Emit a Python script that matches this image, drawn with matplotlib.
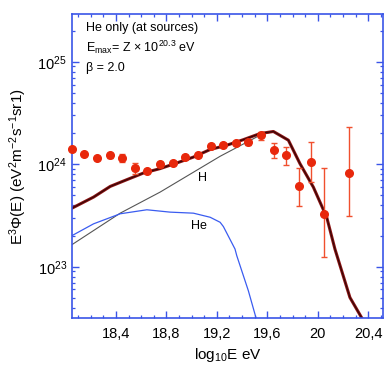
import matplotlib.pyplot as plt
from matplotlib.ticker import MultipleLocator, LogLocator, NullFormatter, FixedLocator
import numpy as np

plt.rcParams['font.family'] = ['Liberation Sans', 'DejaVu Sans']
plt.rcParams['mathtext.fontset'] = 'custom'
plt.rcParams['mathtext.rm'] = 'Liberation Sans'
plt.rcParams['mathtext.it'] = 'Liberation Sans:italic'

# measured spectrum (units of 1e24)
logE_pts = [18.05, 18.15, 18.25, 18.35, 18.45, 18.55, 18.65, 18.75, 18.85, 18.95, 19.05,
            19.15, 19.25, 19.35, 19.45, 19.55, 19.65, 19.75, 19.85, 19.95, 20.05, 20.25]
flux_pts = [1.40, 1.25, 1.14, 1.22, 1.16, 0.91, 0.86, 1.00, 1.02, 1.18, 1.23,
            1.50, 1.55, 1.62, 1.64, 1.91, 1.37, 1.24, 0.62, 1.05, 0.33, 0.83]
err_lo = [0.05, 0.05, 0.05, 0.07, 0.10, 0.11, 0.04, 0.05, 0.04, 0.05, 0.05,
          0.06, 0.06, 0.08, 0.10, 0.19, 0.21, 0.26, 0.23, 0.38, 0.205, 0.52]
err_hi = [0.05, 0.05, 0.05, 0.07, 0.10, 0.12, 0.04, 0.05, 0.04, 0.05, 0.05,
          0.06, 0.06, 0.08, 0.10, 0.16, 0.25, 0.22, 0.29, 0.61, 0.60, 1.49]

# model curves (log10 of E^3 flux)
logE_tot = [18.052, 18.223, 18.355, 18.487, 18.619, 18.751, 18.883, 19.014, 19.147, 19.279,
            19.410, 19.543, 19.648, 19.767, 19.859, 19.965, 20.071, 20.136, 20.255, 20.360, 20.45]
log_tot = [23.572, 23.68, 23.784, 23.85, 23.915, 23.958, 24.013, 24.07, 24.144, 24.186,
           24.24, 24.30, 24.32, 24.235, 24.006, 23.777, 23.483, 23.173, 22.70, 22.477, 22.15]

logE_H = [18.052, 18.434, 18.751, 19.226, 19.543, 19.648, 19.767, 19.859, 19.965, 20.071,
          20.136, 20.255, 20.360, 20.45]
log_H = [23.216, 23.523, 23.729, 24.078, 24.284, 24.32, 24.235, 24.006, 23.777, 23.483,
         23.173, 22.70, 22.477, 22.15]

logE_He = [18.052, 18.223, 18.434, 18.645, 18.830, 19.014, 19.147, 19.226, 19.252, 19.344,
           19.358, 19.450, 19.516, 19.56]
log_He = [23.304, 23.419, 23.517, 23.556, 23.533, 23.523, 23.483, 23.434, 23.392, 23.173,
          23.108, 22.765, 22.477, 22.2]

blue = '#3a55e8'

fig = plt.figure(figsize=(3.9, 3.71), dpi=100)
ax = fig.add_axes([0.184, 0.142, 0.799, 0.820])

ax.plot(logE_H, 10 ** np.array(log_H), color='#555555', lw=0.8)
ax.plot(logE_He, 10 ** np.array(log_He), color='#3a5cf0', lw=0.9)
ax.plot(logE_tot, 10 ** np.array(log_tot), color='#8e1212', lw=2.2)
ax.plot(logE_tot, 10 ** np.array(log_tot), color='black', lw=0.9, alpha=0.6)

y = np.array(flux_pts) * 1e24
yerr = [np.array(err_lo) * 1e24, np.array(err_hi) * 1e24]
ax.errorbar(logE_pts, y, yerr=yerr, fmt='o', color='#e8280c', ecolor='#f0502e',
            ms=5.5, elinewidth=1.0, capsize=2.2, capthick=1.0, clip_on=False, zorder=5)

ax.set_yscale('log')
ax.set_xlim(18.05, 20.52)
ax.set_ylim(3.14e22, 2.92e25)

ax.xaxis.set_major_locator(FixedLocator([18.4, 18.8, 19.2, 19.6, 20.0, 20.4]))
ax.xaxis.set_minor_locator(MultipleLocator(0.1))
ax.set_xticklabels(['18,4', '18,8', '19,2', '19,6', '20', '20,4'])
ax.yaxis.set_major_locator(LogLocator(base=10))
ax.yaxis.set_minor_locator(LogLocator(base=10, subs=np.arange(2, 10)))
ax.yaxis.set_minor_formatter(NullFormatter())

for s in ax.spines.values():
    s.set_color(blue)
    s.set_linewidth(1.2)
ax.tick_params(which='both', direction='in', top=True, right=True, color=blue,
               labelsize=10.5, labelcolor='black')
ax.tick_params(which='major', length=5, width=1)
ax.tick_params(which='minor', length=2.5, width=0.9)
ax.tick_params(axis='x', pad=6)

ax.set_xlabel('log$_{10}$E eV', fontsize=11, labelpad=4)
ax.set_ylabel('E$^3\\Phi$(E) (eV$^2$m$^{-2}$s$^{-1}$sr1)', fontsize=11, labelpad=6)

ax.text(0.046, 0.954, 'He only (at sources)', transform=ax.transAxes, fontsize=9, va='center')
ax.text(0.046, 0.892, 'E$_{\\mathrm{max}}$= Z $\\times$ 10$^{20.3}$ eV', transform=ax.transAxes,
        fontsize=9, va='center')
ax.text(0.046, 0.822, 'β = 2.0', transform=ax.transAxes, fontsize=9, va='center')
ax.text(19.09, 7.4e23, 'H', fontsize=9, ha='center', va='center')
ax.text(19.06, 2.5e23, 'He', fontsize=9, ha='center', va='center')

plt.savefig('out.png', dpi=100)
